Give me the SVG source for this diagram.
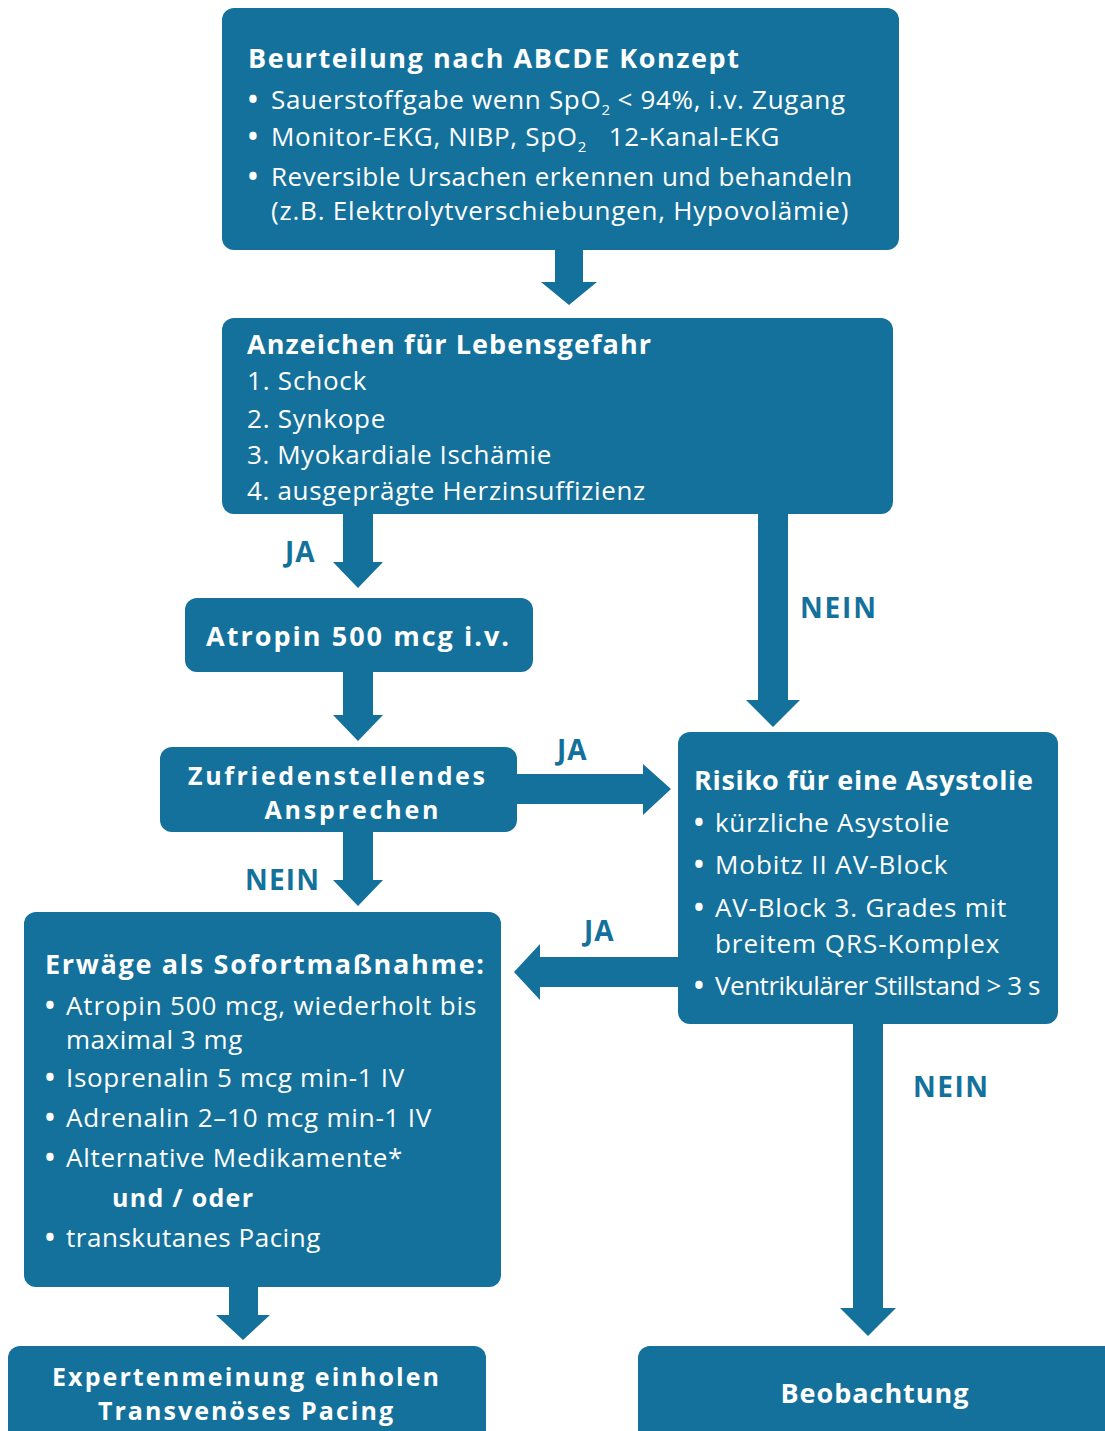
<svg xmlns="http://www.w3.org/2000/svg" width="1105" height="1431" viewBox="0 0 1105 1431">
<style>
.box{fill:#13719b}
.arr{fill:#13719b}
.t{font-family:"Open Sans","Liberation Sans",sans-serif;fill:#ffffff}
.b{font-weight:bold;font-size:27px;letter-spacing:1px}
.b2{font-weight:bold;font-size:25px;letter-spacing:1px}
.r{font-size:26px;letter-spacing:0.7px}
.u{font-weight:bold;font-size:25px}
.dot{font-family:"Open Sans","Liberation Sans",sans-serif;fill:#ffffff;font-weight:bold;font-size:26px}
.lbl{font-family:"Open Sans","Liberation Sans",sans-serif;font-weight:bold;font-size:28px;letter-spacing:1px;fill:#13719b}
.sub{font-size:15px;letter-spacing:0}
</style>
<rect width="1105" height="1431" fill="#ffffff"/>
<g id="connectors">
<polygon class="arr" points="555,250 583,250 583,282 597,282 569,305 541,282 555,282"/>
<polygon class="arr" points="343,514 373,514 373,562 383,562 358,588 333,562 343,562"/>
<polygon class="arr" points="758,514 788,514 788,700 800,700 773,727 746,700 758,700"/>
<polygon class="arr" points="343,672 373,672 373,715 383,715 358,741 333,715 343,715"/>
<polygon class="arr" points="517,774 643,774 643,764 671,789 643,815 643,804 517,804"/>
<polygon class="arr" points="343,832 373,832 373,880 383,880 358,906 333,880 343,880"/>
<polygon class="arr" points="678,957 540,957 540,944 514,972 540,1000 540,987 678,987"/>
<polygon class="arr" points="229,1287 258,1287 258,1315 270,1315 243,1340 216,1315 229,1315"/>
<polygon class="arr" points="853,1024 883,1024 883,1308 896,1308 868,1336 840,1308 853,1308"/>
<text class="lbl" x="285" y="562">JA</text>
<text class="lbl" x="800" y="618" textLength="77">NEIN</text>
<text class="lbl" x="557" y="760">JA</text>
<text class="lbl" x="245" y="890" textLength="75">NEIN</text>
<text class="lbl" x="584" y="941">JA</text>
<text class="lbl" x="913" y="1097" textLength="76">NEIN</text>
</g>
<g id="abcde">
<rect class="box" x="222" y="8" width="677" height="242" rx="12"/>
<text class="t b" x="248" y="68" textLength="492">Beurteilung nach ABCDE Konzept</text>
<text class="dot" x="248" y="109">•</text>
<text class="t r" x="271" y="109">Sauerstoffgabe wenn SpO<tspan class="sub" dy="6">2</tspan><tspan dy="-6"> &lt; 94%, i.v. Zugang</tspan></text>
<text class="dot" x="248" y="146">•</text>
<text class="t r" x="271" y="146" xml:space="preserve">Monitor-EKG, NIBP, SpO<tspan class="sub" dy="6">2</tspan><tspan dy="-6">   12-Kanal-EKG</tspan></text>
<text class="dot" x="248" y="186">•</text>
<text class="t r" x="271" y="186" textLength="582">Reversible Ursachen erkennen und behandeln</text>
<text class="t r" x="271" y="220" textLength="578">(z.B. Elektrolytverschiebungen, Hypovolämie)</text>
</g>
<g id="lebensgefahr">
<rect class="box" x="222" y="318" width="671" height="196" rx="12"/>
<text class="t b" x="247" y="354" textLength="405">Anzeichen für Lebensgefahr</text>
<text class="t r" x="247" y="390" textLength="120">1. Schock</text>
<text class="t r" x="247" y="428" textLength="139">2. Synkope</text>
<text class="t r" x="247" y="464" textLength="305">3. Myokardiale Ischämie</text>
<text class="t r" x="247" y="500" textLength="399">4. ausgeprägte Herzinsuffizienz</text>
</g>
<g id="atropin">
<rect class="box" x="185" y="598" width="348" height="74" rx="12"/>
<text class="t b" x="358" y="646" text-anchor="middle" textLength="304">Atropin 500 mcg i.v.</text>
</g>
<g id="ansprechen">
<rect class="box" x="160" y="747" width="357" height="85" rx="12"/>
<text class="t b2" x="337" y="785" text-anchor="middle" textLength="298">Zufriedenstellendes</text>
<text class="t b2" x="352" y="819" text-anchor="middle" textLength="175">Ansprechen</text>
</g>
<g id="asystolie">
<rect class="box" x="678" y="732" width="380" height="292" rx="12"/>
<text class="t b" x="694" y="790" textLength="340">Risiko für eine Asystolie</text>
<text class="dot" x="694" y="832">•</text>
<text class="t r" x="715" y="832" textLength="235">kürzliche Asystolie</text>
<text class="dot" x="694" y="874">•</text>
<text class="t r" x="715" y="874" textLength="233">Mobitz II AV-Block</text>
<text class="dot" x="694" y="917">•</text>
<text class="t r" x="715" y="917" textLength="292">AV-Block 3. Grades mit</text>
<text class="t r" x="715" y="953" textLength="285">breitem QRS-Komplex</text>
<text class="dot" x="694" y="995">•</text>
<text class="t r" x="715" y="995" textLength="326">Ventrikulärer Stillstand &gt; 3 s</text>
</g>
<g id="sofort">
<rect class="box" x="24" y="912" width="477" height="375" rx="12"/>
<text class="t b" x="45" y="974" textLength="440">Erwäge als Sofortmaßnahme:</text>
<text class="dot" x="45" y="1015">•</text>
<text class="t r" x="66" y="1015" textLength="411">Atropin 500 mcg, wiederholt bis</text>
<text class="t r" x="66" y="1049" textLength="177">maximal 3 mg</text>
<text class="dot" x="45" y="1087">•</text>
<text class="t r" x="66" y="1087" textLength="339">Isoprenalin 5 mcg min-1 IV</text>
<text class="dot" x="45" y="1127">•</text>
<text class="t r" x="66" y="1127" textLength="366">Adrenalin 2–10 mcg min-1 IV</text>
<text class="dot" x="45" y="1167">•</text>
<text class="t r" x="66" y="1167" textLength="337">Alternative Medikamente*</text>
<text class="t u" x="112" y="1207" textLength="141">und / oder</text>
<text class="dot" x="45" y="1247">•</text>
<text class="t r" x="66" y="1247" textLength="255">transkutanes Pacing</text>
</g>
<g id="experten">
<rect class="box" x="8" y="1346" width="478" height="100" rx="12"/>
<text class="t b2" x="246" y="1386" text-anchor="middle" textLength="388">Expertenmeinung einholen</text>
<text class="t b2" x="246" y="1420" text-anchor="middle" textLength="296">Transvenöses Pacing</text>
</g>
<g id="beobachtung">
<rect class="box" x="638" y="1346" width="480" height="100" rx="12"/>
<text class="t b" x="875" y="1403" text-anchor="middle" textLength="189">Beobachtung</text>
</g>
</svg>
